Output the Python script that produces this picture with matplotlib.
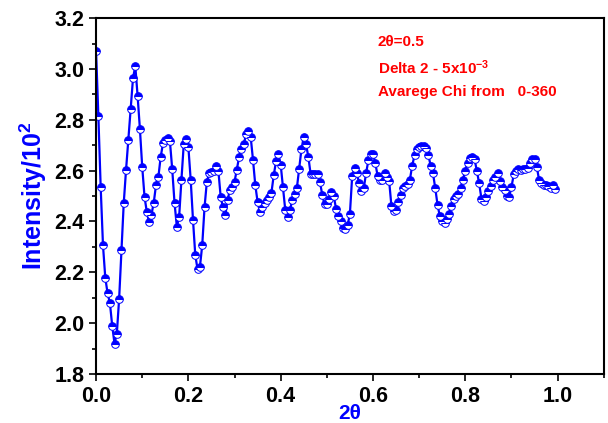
import numpy as np
import matplotlib
matplotlib.use("Agg")
import matplotlib.pyplot as plt
from matplotlib.ticker import MultipleLocator

plt.rcParams['font.family'] = ['Liberation Sans', 'DejaVu Sans']
plt.rcParams['mathtext.fontset'] = 'custom'
plt.rcParams['mathtext.rm'] = 'Liberation Sans:bold'
plt.rcParams['mathtext.bf'] = 'Liberation Sans:bold'
plt.rcParams['mathtext.default'] = 'bf'

# 2theta step 5e-3, 200 points
step = 0.005
intensity = [
    3.07, 2.814, 2.535, 2.306, 2.178, 2.117, 2.079, 1.989, 1.919, 1.959,
    2.096, 2.287, 2.473, 2.604, 2.722, 2.842, 2.963, 3.012, 2.894, 2.764,
    2.615, 2.497, 2.437, 2.396, 2.427, 2.474, 2.545, 2.575, 2.654, 2.707,
    2.72, 2.73, 2.716, 2.606, 2.473, 2.38, 2.418, 2.565, 2.704, 2.726,
    2.693, 2.565, 2.407, 2.267, 2.211, 2.221, 2.306, 2.455, 2.556, 2.589,
    2.595, 2.60, 2.617, 2.60, 2.497, 2.455, 2.424, 2.486, 2.523, 2.536,
    2.556, 2.604, 2.654, 2.687, 2.704, 2.743, 2.756, 2.733, 2.643, 2.543,
    2.477, 2.437, 2.457, 2.471, 2.483, 2.497, 2.514, 2.582, 2.637, 2.665,
    2.624, 2.536, 2.444, 2.418, 2.444, 2.483, 2.510, 2.530, 2.606, 2.684,
    2.733, 2.703, 2.654, 2.585, 2.585, 2.585, 2.585, 2.556, 2.506, 2.467,
    2.467, 2.490, 2.516, 2.50, 2.45, 2.42, 2.40, 2.375, 2.37, 2.385,
    2.43, 2.58, 2.61, 2.59, 2.55, 2.52, 2.53, 2.59, 2.64, 2.667,
    2.665, 2.63, 2.58, 2.565, 2.565, 2.589, 2.575, 2.56, 2.46, 2.44,
    2.445, 2.475, 2.505, 2.53, 2.54, 2.548, 2.565, 2.62, 2.66, 2.685,
    2.695, 2.697, 2.697, 2.69, 2.66, 2.62, 2.59, 2.53, 2.464, 2.42,
    2.40, 2.395, 2.41, 2.43, 2.46, 2.49, 2.50, 2.51, 2.53, 2.565,
    2.60, 2.632, 2.65, 2.655, 2.645, 2.60, 2.55, 2.49, 2.48, 2.495,
    2.52, 2.54, 2.565, 2.575, 2.59, 2.56, 2.536, 2.523, 2.50, 2.497,
    2.535, 2.585, 2.60, 2.605, 2.604, 2.606, 2.606, 2.61, 2.63, 2.645,
    2.645, 2.615, 2.562, 2.553, 2.545, 2.545, 2.54, 2.532, 2.545, 2.527,
]
two_theta = np.arange(len(intensity)) * step

fig = plt.figure(figsize=(6.08, 4.23), dpi=100)
ax = fig.add_axes([0.158, 0.116, 0.835, 0.841])

ax.plot(two_theta, intensity, color='#0000ff', lw=1.6, marker='o', ms=5.5,
        fillstyle='top', markerfacecolor='#0000ff', markerfacecoloralt='white',
        markeredgecolor='#0000ff', markeredgewidth=0.7)

ax.set_xlim(0, 1.1)
ax.set_ylim(1.8, 3.2)
ax.xaxis.set_major_locator(MultipleLocator(0.2))
ax.xaxis.set_minor_locator(MultipleLocator(0.1))
ax.yaxis.set_major_locator(MultipleLocator(0.2))
ax.yaxis.set_minor_locator(MultipleLocator(0.1))
ax.tick_params(which='both', direction='out', width=1.2)
ax.tick_params(which='major', length=5, labelsize=15.5)
ax.tick_params(which='minor', length=3)
for lab in ax.get_xticklabels() + ax.get_yticklabels():
    lab.set_fontweight('bold')
for sp in ax.spines.values():
    sp.set_linewidth(1.5)

ax.set_xlabel('2\u03b8', color='#0000ff', fontsize=15, fontweight='bold', labelpad=-2)
ax.set_ylabel(r'Intensity/10$^{2}$', color='#0000ff', fontsize=18, fontweight='bold', labelpad=4)

txt = dict(color='#ff0000', fontsize=11, fontweight='bold', transform=ax.transAxes,
           va='center', ha='left')
ax.text(0.555, 0.933, '2\u03b8=0.5', **txt)
ax.text(0.555, 0.862, r'Delta 2 - 5x10$^{-3}$', **txt)
ax.text(0.555, 0.792, 'Avarege Chi from   0-360', **txt)

fig.savefig('out.png', dpi=100)
